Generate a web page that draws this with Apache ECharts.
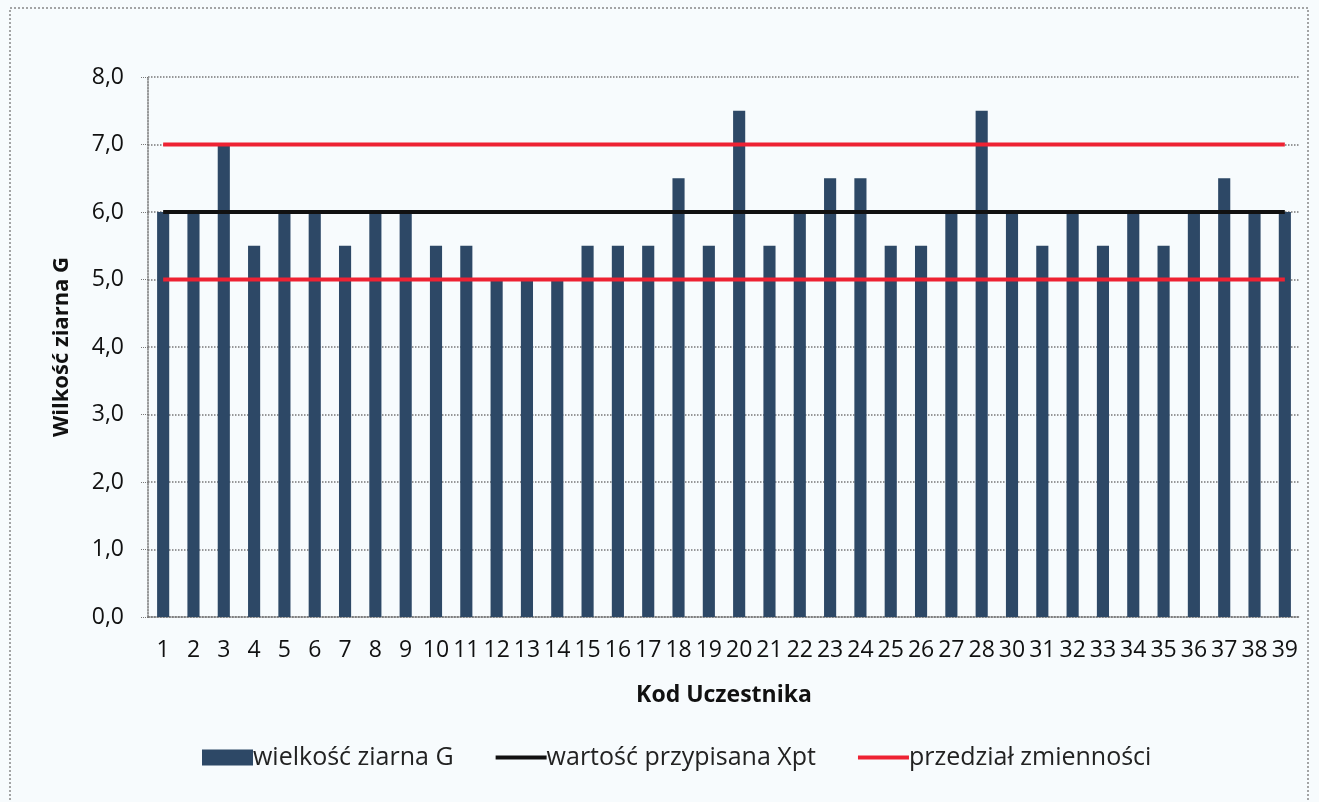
<!DOCTYPE html>
<html><head><meta charset="utf-8">
<script src="https://cdn.jsdelivr.net/npm/echarts@6/dist/echarts.min.js"></script>
<style>html,body{margin:0;padding:0;background:#f7fbfd;}#c{width:1319px;height:802px;}</style>
</head><body><div id="c"></div>
<script>
var categories = ['1','2','3','4','5','6','7','8','9','10','11','12','13','14','15','16','17','18','19','20','21','22','23','24','25','26','27','28','30','31','32','33','34','35','36','37','38','39'];
var grainSize = [6.0,6.0,7.0,5.5,6.0,6.0,5.5,6.0,6.0,5.5,5.5,5.0,5.0,5.0,5.5,5.5,5.5,6.5,5.5,7.5,5.5,6.0,6.5,6.5,5.5,5.5,6.0,7.5,6.0,5.5,6.0,5.5,6.0,5.5,6.0,6.5,6.0,6.0];
var assignedValue = 6.0;
var lowerLimit = 5.0;
var upperLimit = 7.0;

var xptLine = categories.map(function(){return assignedValue;});
var lowLine = categories.map(function(){return lowerLimit;});
var upLine = categories.map(function(){return upperLimit;});

var chart = echarts.init(document.getElementById('c'));
var font = '"Open Sans", "Noto Sans", sans-serif';
var lineIcon = 'path://M0,0 L51,0 L51,4 L0,4 Z';
chart.setOption({
  backgroundColor: '#f7fbfd',
  animation: false,
  grid: {left: 148, right: 19, top: 77, bottom: 185},
  legend: {
    top: 740, left: 197, itemGap: 42, itemWidth: 51, itemHeight: 16,
    textStyle: {fontFamily: font, fontSize: 25, color: '#222', padding: [0, 0, 0, -5]},
    data: [
      {name: 'wielkość ziarna G', icon: 'rect'},
      {name: 'wartość przypisana Xpt', icon: lineIcon},
      {name: 'przedział zmienności', icon: lineIcon}
    ]
  },
  xAxis: {
    type: 'category', data: categories,
    name: 'Kod Uczestnika', nameLocation: 'middle', nameGap: 67,
    nameTextStyle: {fontFamily: font, fontSize: 23, fontWeight: 'bold', color: '#111'},
    axisLine: {lineStyle: {color: '#777', type: 'dotted', width: 1.5}},
    axisTick: {show: false},
    axisLabel: {interval: 0, margin: 22, fontFamily: font, fontSize: 23, color: '#111'}
  },
  yAxis: {
    type: 'value', min: 0, max: 8, interval: 1,
    name: 'Wilkość ziarna G', nameLocation: 'middle', nameGap: 75, nameRotate: 90,
    nameTextStyle: {fontFamily: font, fontSize: 22, fontWeight: 'bold', color: '#111'},
    axisLine: {show: true, lineStyle: {color: '#777', type: 'dotted', width: 1.5}},
    axisTick: {show: true, length: 8, lineStyle: {color: '#777', type: 'dotted'}},
    splitLine: {lineStyle: {color: '#777', type: 'dotted', width: 1.5}},
    axisLabel: {margin: 24, fontFamily: font, fontSize: 23, color: '#111',
      formatter: function(v){ return v.toFixed(1).replace('.', ','); }}
  },
  series: [
    {name: 'wielkość ziarna G', type: 'bar', data: grainSize, barWidth: '40%',
     itemStyle: {color: '#2d4866'}},
    {name: 'wartość przypisana Xpt', type: 'line', data: xptLine, symbol: 'none',
     lineStyle: {color: '#111', width: 4}, itemStyle: {color: '#111'}},
    {name: 'przedział zmienności', type: 'line', data: upLine, symbol: 'none',
     lineStyle: {color: '#ee2233', width: 4}, itemStyle: {color: '#ee2233'}},
    {name: 'przedział zmienności', type: 'line', data: lowLine, symbol: 'none',
     lineStyle: {color: '#ee2233', width: 4}, itemStyle: {color: '#ee2233'}}
  ],
  graphic: [
    {type: 'rect', shape: {x: 10, y: 8, width: 1298, height: 800},
     style: {fill: 'none', stroke: '#888', lineWidth: 1.5, lineDash: [2,2]}}
  ]
});
</script></body></html>
